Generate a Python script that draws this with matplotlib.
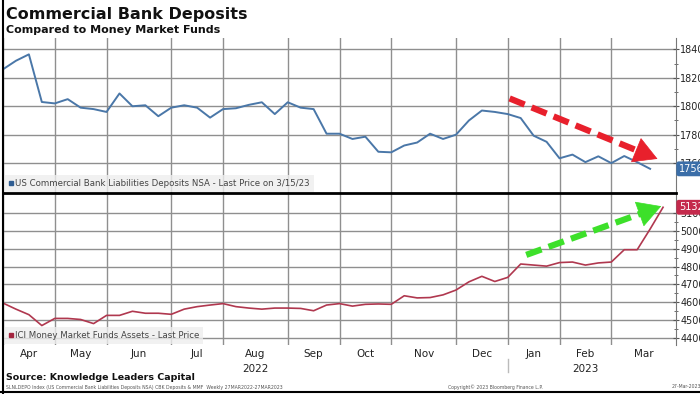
import pandas as pd
import matplotlib.pyplot as plt
import matplotlib.dates as mdates
from matplotlib.lines import Line2D

deposit_dates = pd.date_range('2022-03-30', '2023-03-15', freq='7D')
mmf_dates = pd.date_range('2022-03-30', '2023-03-22', freq='7D')

# US Commercial Bank Liabilities Deposits NSA
deposits = [1826, 1832, 1836.5, 1803, 1802, 1805, 1799, 1798, 1796, 1809,
            1800, 1800.7, 1793, 1799, 1800.7, 1799, 1792, 1798, 1798.6, 1801,
            1802.8, 1794.5, 1802.8, 1799, 1798, 1780.7, 1780.7, 1777, 1778.6, 1768,
            1767.6, 1772.4, 1774.5, 1780.7, 1777, 1780, 1790, 1797, 1796, 1794.5,
            1791.7, 1779.3, 1775, 1763.4, 1766, 1760.7, 1764.8, 1760, 1765, 1760.7,
            1756]

# ICI Money Market Funds Assets
mmf_assets = [4595, 4561, 4530, 4469, 4509, 4509, 4503, 4480, 4526, 4526,
              4549, 4538, 4538, 4532, 4561, 4575, 4584, 4592, 4575, 4567,
              4561, 4567, 4567, 4565, 4552, 4584, 4592, 4578, 4588, 4590,
              4588, 4636, 4624, 4626, 4641, 4668, 4714, 4745, 4716, 4739,
              4814, 4808, 4802, 4822, 4825, 4808, 4820, 4825, 4894, 4894,
              5010, 5132]

deposit_ticks = [1760, 1780, 1800, 1820, 1840]
mmf_ticks = [4400, 4500, 4600, 4700, 4800, 4900, 5000, 5100]

# hand drawn trend arrows (start, end) in date / value
red_arrow = [('2022-12-29', 1805.5), ('2023-03-19', 1763)]
green_arrow = [('2023-01-07', 4865), ('2023-03-21', 5138)]

blue = '#4a77a8'
red = '#b0384f'
grid_c = '#8f8f8f'

fig = plt.figure(figsize=(7, 3.94), dpi=100)
ax1 = fig.add_axes([3/700, 1-193/394, 673/700, 155/394])
ax2 = fig.add_axes([3/700, 1-345/394, 673/700, 152/394], sharex=ax1)

ax1.plot(deposit_dates, deposits, color=blue, lw=1.4)
ax2.plot(mmf_dates, mmf_assets, color=red, lw=1.2)

xmin, xmax = pd.Timestamp('2022-03-30'), pd.Timestamp('2023-03-29')
ax1.set_xlim(xmin, xmax)
ax1.set_ylim(1739, 1848)
ax2.set_ylim(4360, 5212)

# month gridlines sit on the last weekly point of each month
s = pd.Series(mmf_dates, index=mmf_dates)
month_ends = list(s.groupby(s.dt.to_period('M')).max().iloc[:-1])
edges = [xmin] + month_ends + [xmax]
mids = [edges[i] + (edges[i+1] - edges[i]) / 2 for i in range(len(edges) - 1)]

for ax, ticks in [(ax1, deposit_ticks), (ax2, mmf_ticks)]:
    ax.set_xticks(month_ends)
    ax.tick_params(axis='x', which='major', length=0, labelbottom=False)
    ax.yaxis.tick_right()
    ax.set_yticks(ticks)
    ax.set_yticks([t + (ticks[1]-ticks[0])/2 for t in ticks[:-1]], minor=True)
    ax.tick_params(axis='y', which='major', direction='inout', length=5,
                   color='#555555', labelsize=6.9, labelcolor='#222222', pad=0.5)
    ax.tick_params(axis='y', which='minor', direction='inout', length=2.5,
                   color='#555555')
    ax.grid(True, which='major', color=grid_c, lw=1.0)
    for side in ['top', 'left', 'bottom']:
        ax.spines[side].set_visible(False)
    ax.spines['right'].set_color('#777777')

ax2.spines['top'].set_visible(True)
ax2.spines['top'].set_color('black')
ax2.spines['top'].set_linewidth(2)

# month labels between the gridlines
ax2.set_xticks(mids, minor=True)
ax2.set_xticklabels([d.strftime('%b') for d in mids], minor=True)
ax2.tick_params(axis='x', which='minor', length=0, labelsize=7.5,
                labelcolor='#222222', pad=3, labelbottom=True)

# year labels under the middle month of each year
years = sorted(set(d.year for d in mids))
for y in years:
    m = [d for d in mids if d.year == y]
    ax2.text(m[len(m)//2], -0.16, str(y), transform=ax2.get_xaxis_transform(),
             ha='center', va='center', fontsize=7.5, color='#222222')
year_break = [d for d in month_ends if d.month == 12][0]
ax2.plot([year_break, year_break], [-0.09, -0.18], transform=ax2.get_xaxis_transform(),
         color='#bbbbbb', lw=1, clip_on=False)

# legends
h1 = Line2D([], [], marker='s', ls='none', color='#2f5d92', ms=3.5)
leg1 = ax1.legend([h1], ['US Commercial Bank Liabilities Deposits NSA - Last Price on 3/15/23'],
                  loc='lower left', fontsize=6.2, frameon=True, fancybox=False,
                  handlelength=0.6, handletextpad=0.2, borderaxespad=0.15,
                  borderpad=0.45, labelcolor='#444444')
leg1.get_frame().set_facecolor('#eeeeee')
leg1.get_frame().set_edgecolor('none')
h2 = Line2D([], [], marker='s', ls='none', color='#a3253f', ms=3.5)
leg2 = ax2.legend([h2], ['ICI Money Market Funds Assets - Last Price'],
                  loc='lower left', fontsize=6.2, frameon=True, fancybox=False,
                  handlelength=0.6, handletextpad=0.2, borderaxespad=0.15,
                  borderpad=0.45, labelcolor='#444444')
leg2.get_frame().set_facecolor('#eeeeee')
leg2.get_frame().set_edgecolor('none')

# last value badges
for ax, val, c in [(ax1, deposits[-1], '#3b6ea8'), (ax2, mmf_assets[-1], '#c42a4c')]:
    ax.annotate(f'{val:.0f}', xy=(1.0, val), xycoords=ax.get_yaxis_transform(),
                xytext=(2, 0), textcoords='offset points', ha='left', va='center',
                fontsize=7, color='white', annotation_clip=False, zorder=10,
                bbox=dict(boxstyle='round,pad=0.25', fc=c, ec='none'))

# trend arrows
def trend_arrow(ax, pts, color):
    (x0, y0), (x1, y1) = [(mdates.date2num(pd.Timestamp(d)), v) for d, v in pts]
    xm, ym = x0 + 0.86 * (x1 - x0), y0 + 0.86 * (y1 - y0)
    ax.plot([x0, xm], [y0, ym], color=color, lw=4.5, ls=(0, (2.6, 1.2)),
            solid_capstyle='butt', zorder=5)
    ax.annotate('', xy=(x1, y1), xytext=(xm, ym),
                arrowprops=dict(arrowstyle='-|>,head_length=0.8,head_width=0.45',
                                mutation_scale=20, color=color, lw=0.5,
                                shrinkA=0, shrinkB=0), zorder=6)

trend_arrow(ax1, red_arrow, '#e8202c')
trend_arrow(ax2, green_arrow, '#3de02a')

# titles and footer
fig.text(0.008, 1-14/394, 'Commercial Bank Deposits', fontsize=11.5,
         fontweight='bold', va='center', color='#111111')
fig.text(0.008, 1-30/394, 'Compared to Money Market Funds', fontsize=8,
         fontweight='bold', va='center', color='#111111')
fig.text(0.008, 1-377/394, 'Source: Knowledge Leaders Capital', fontsize=6.8,
         fontweight='bold', va='center', color='#111111')
fig.text(0.008, 1-387/394,
         'SLNLDEPO Index (US Commercial Bank Liabilities Deposits NSA) CBK Deposits & MMF  Weekly 27MAR2022-27MAR2023',
         fontsize=3.3, va='center', color='#555555')
fig.text(495/700, 1-387/394, 'Copyright\u00a9 2023 Bloomberg Finance L.P.', fontsize=3.3,
         va='center', ha='center', color='#555555')
fig.text(672/700, 1-387/394, '27-Mar-2023', fontsize=3.3, va='center', color='#555555')

# outer frame (left and bottom edges)
fig.add_artist(Line2D([2.5/700, 2.5/700], [0, 1], color='black', lw=1.5))
fig.add_artist(Line2D([0, 1], [2/394, 2/394], color='black', lw=1.5))

fig.savefig('out.png', dpi=100)
